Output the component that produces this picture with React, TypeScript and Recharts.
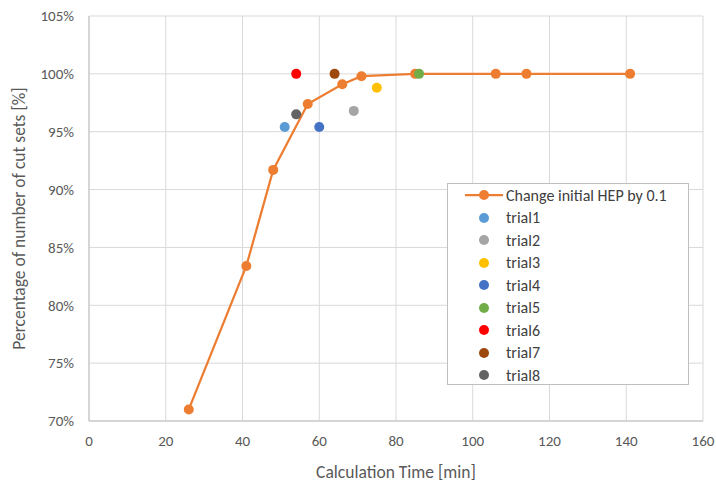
import React from "react"
import { CartesianGrid, Scatter, ScatterChart, XAxis, YAxis } from "recharts"

// orange line: Change initial HEP by 0.1
const hepTimes = [26, 41, 48, 57, 66, 71, 85, 106, 114, 141]
const hepValues = [71.0, 83.4, 91.7, 97.4, 99.1, 99.8, 100, 100, 100, 100]

const trialNames = ["trial1", "trial2", "trial3", "trial4", "trial5", "trial6", "trial7", "trial8"]
const trialTimes = [51, 69, 75, 60, 86, 54, 64, 54]
const trialValues = [95.4, 96.8, 98.8, 95.4, 100, 100, 100, 96.5]
const trialColors = ["#5B9BD5", "#A5A5A5", "#FFC000", "#4472C4", "#70AD47", "#FF0000", "#9E480E", "#636363"]

const xTicks = [0, 20, 40, 60, 80, 100, 120, 140, 160]
const yTicks = [70, 75, 80, 85, 90, 95, 100, 105]

const hepName = "Change initial HEP by 0.1"
const hepColor = "#ED7D31"
const font = "Calibri, Carlito, Lato, 'Liberation Sans', Arial, sans-serif"

const hepData = hepTimes.map((t, i) => ({ x: t, y: hepValues[i] }))

const dot = (color: string) => (props: any) =>
  <circle cx={props.cx} cy={props.cy} r={5} fill={color} />

function LegendBox() {
  const rows = [{ name: hepName, color: hepColor, line: true }].concat(
    trialNames.map((n, i) => ({ name: n, color: trialColors[i], line: false }))
  )
  return (
    <div
      style={{
        position: "absolute",
        left: 447,
        top: 183,
        border: "1px solid #bfbfbf",
        background: "#fff",
        width: 242,
        height: 202,
        boxSizing: "border-box",
        fontFamily: font,
        fontSize: 16,
        color: "#404040",
      }}
    >
      {rows.map((r) => (
        <div key={r.name} style={{ display: "flex", alignItems: "center", height: 22.5 }}>
          <svg width={58} height={14} style={{ flex: "none" }}>
            {r.line && <line x1={17} y1={7} x2={55} y2={7} stroke={r.color} strokeWidth={2.25} />}
            <circle cx={36} cy={7} r={5} fill={r.color} />
          </svg>
          <span style={{ marginLeft: 0 }}>{r.name}</span>
        </div>
      ))}
    </div>
  )
}

export default function App() {
  return (
    <div style={{ position: "absolute", left: 0, top: 0, width: 716, height: 482, background: "#fff" }}>
      <ScatterChart width={716} height={482} margin={{ top: 16, right: 13, bottom: 0, left: 0 }}>
        <CartesianGrid stroke="#d9d9d9" strokeWidth={1} />
        <XAxis
          type="number"
          dataKey="x"
          domain={[0, 160]}
          ticks={xTicks}
          height={61}
          axisLine={{ stroke: "#bfbfbf" }}
          tickLine={false}
          tickMargin={8}
          tick={{ fill: "#595959", fontSize: 15, fontFamily: font }}
          label={{
            value: "Calculation Time [min]",
            position: "insideBottom",
            offset: 4,
            fill: "#595959",
            fontSize: 17.5,
            fontFamily: font,
          }}
        />
        <YAxis
          type="number"
          dataKey="y"
          domain={[70, 105]}
          ticks={yTicks}
          width={89}
          axisLine={{ stroke: "#bfbfbf" }}
          tickLine={false}
          tickMargin={9}
          tickFormatter={(v: number) => `${v}%`}
          tick={{ fill: "#595959", fontSize: 15, fontFamily: font }}
          label={{
            value: "Percentage of number of cut sets [%]",
            angle: -90,
            position: "insideLeft",
            offset: 19,
            style: { textAnchor: "middle" },
            fill: "#595959",
            fontSize: 17.5,
            fontFamily: font,
          }}
        />
        <Scatter
          name={hepName}
          data={hepData}
          fill={hepColor}
          line={{ stroke: hepColor, strokeWidth: 2.25 }}
          lineType="joint"
          shape={dot(hepColor)}
          isAnimationActive={false}
        />
        {trialNames.map((n, i) => (
          <Scatter
            key={n}
            name={n}
            data={[{ x: trialTimes[i], y: trialValues[i] }]}
            fill={trialColors[i]}
            shape={dot(trialColors[i])}
            isAnimationActive={false}
          />
        ))}
      </ScatterChart>
      <LegendBox />
    </div>
  )
}
